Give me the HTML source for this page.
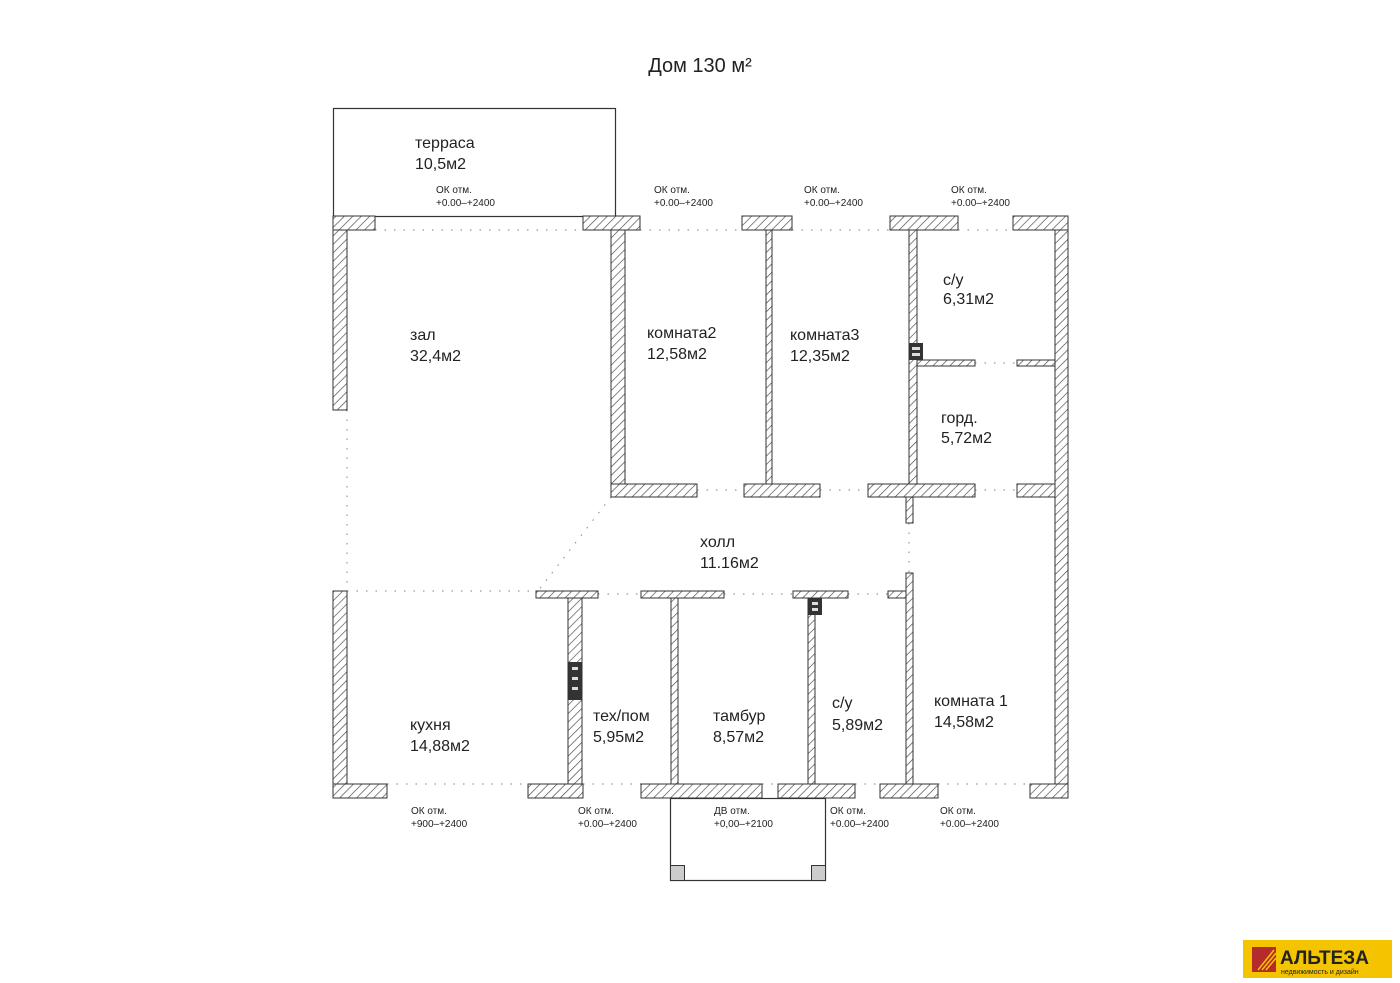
<!DOCTYPE html>
<html><head><meta charset="utf-8"><style>
html,body{margin:0;padding:0;background:#fff;}
svg{display:block}
text{font-family:"Liberation Sans",sans-serif;fill:#222}
.l{font-size:16px}
.s{font-size:10px}
</style></head><body>
<svg width="1400" height="983" viewBox="0 0 1400 983" xmlns="http://www.w3.org/2000/svg">
<defs>
<pattern id="h" width="6" height="6" patternUnits="userSpaceOnUse" patternTransform="rotate(45)">
<rect width="6" height="6" fill="#fff"/><line x1="0" y1="0" x2="0" y2="6" stroke="#444" stroke-width="1.3"/>
</pattern>
</defs>
<text x="700" y="72" text-anchor="middle" style="font-size:20px" fill="#333">Дом 130 м²</text>
<rect x="333.5" y="108.5" width="282" height="108" fill="none" stroke="#333" stroke-width="1.2"/>
<g fill="none" stroke="#999" stroke-width="1.2" stroke-dasharray="1.5 8">
<path d="M375 230H583M640 230H742M792 230H890M958 230H1013"/>
<path d="M347 410V591M347 591H536M611 497L538 591M909 523V573"/>
<path d="M387 784H528M583 784H641M762 784H778M855 784H880M938 784H1030"/>
<path d="M598 594H641M724 594H793M848 594H888"/>
<path d="M697 490H744M820 490H868M975 490H1017M975 363H1017"/>
</g>
<g fill="url(#h)" stroke="#333" stroke-width="1">
<rect x="333" y="216" width="42" height="14"/><rect x="583" y="216" width="57" height="14"/>
<rect x="742" y="216" width="50" height="14"/><rect x="890" y="216" width="68" height="14"/>
<rect x="1013" y="216" width="55" height="14"/>
<rect x="333" y="230" width="14" height="180"/><rect x="333" y="591" width="14" height="193"/>
<rect x="1055" y="230" width="13" height="554"/>
<rect x="333" y="784" width="54" height="14"/><rect x="528" y="784" width="55" height="14"/>
<rect x="641" y="784" width="121" height="14"/><rect x="778" y="784" width="77" height="14"/>
<rect x="880" y="784" width="58" height="14"/><rect x="1030" y="784" width="38" height="14"/>
<rect x="611" y="230" width="14" height="254"/>
<rect x="611" y="484" width="86" height="13"/><rect x="744" y="484" width="76" height="13"/>
<rect x="868" y="484" width="107" height="13"/><rect x="1017" y="484" width="38" height="13"/>
<rect x="766" y="230" width="6" height="254"/><rect x="909" y="230" width="8" height="254"/>
<rect x="917" y="360" width="58" height="6"/><rect x="1017" y="360" width="38" height="6"/>
<rect x="906" y="497" width="7" height="26"/><rect x="906" y="573" width="7" height="211"/>
<rect x="888" y="591" width="18" height="7"/>
<rect x="536" y="591" width="62" height="7"/><rect x="641" y="591" width="83" height="7"/>
<rect x="793" y="591" width="55" height="7"/>
<rect x="568" y="598" width="14" height="186"/><rect x="671" y="598" width="7" height="186"/>
<rect x="808" y="598" width="7" height="186"/>
</g>
<g fill="#333"><rect x="909" y="343" width="14" height="17"/><rect x="568" y="662" width="14" height="38"/><rect x="808" y="598" width="14" height="17"/></g>
<g fill="#ddd"><rect x="912" y="347" width="8" height="3"/><rect x="912" y="353" width="8" height="3"/>
<rect x="572" y="667" width="6" height="3"/><rect x="572" y="677" width="6" height="3"/><rect x="572" y="687" width="6" height="3"/>
<rect x="812" y="602" width="6" height="3"/><rect x="812" y="608" width="6" height="3"/></g>
<rect x="670.5" y="798.5" width="155" height="82" fill="none" stroke="#333" stroke-width="1.2"/>
<g fill="#ccc" stroke="#333"><rect x="670.5" y="865.5" width="14" height="15"/><rect x="811.5" y="865.5" width="14" height="15"/></g>
<text class="l" x="415" y="148">терраса</text><text class="l" x="415" y="169">10,5м2</text>
<text class="l" x="410" y="340">зал</text><text class="l" x="410" y="361">32,4м2</text>
<text class="l" x="647" y="338">комната2</text><text class="l" x="647" y="359">12,58м2</text>
<text class="l" x="790" y="340">комната3</text><text class="l" x="790" y="361">12,35м2</text>
<text class="l" x="943" y="285">с/у</text><text class="l" x="943" y="304">6,31м2</text>
<text class="l" x="941" y="423">горд.</text><text class="l" x="941" y="443">5,72м2</text>
<text class="l" x="700" y="547">холл</text><text class="l" x="700" y="568">11.16м2</text>
<text class="l" x="410" y="730">кухня</text><text class="l" x="410" y="751">14,88м2</text>
<text class="l" x="593" y="721">тех/пом</text><text class="l" x="593" y="742">5,95м2</text>
<text class="l" x="713" y="721">тамбур</text><text class="l" x="713" y="742">8,57м2</text>
<text class="l" x="832" y="708">с/у</text><text class="l" x="832" y="730">5,89м2</text>
<text class="l" x="934" y="706">комната 1</text><text class="l" x="934" y="727">14,58м2</text>
<g class="s">
<text x="436" y="193">ОК отм.</text><text x="436" y="206">+0.00–+2400</text>
<text x="654" y="193">ОК отм.</text><text x="654" y="206">+0.00–+2400</text>
<text x="804" y="193">ОК отм.</text><text x="804" y="206">+0.00–+2400</text>
<text x="951" y="193">ОК отм.</text><text x="951" y="206">+0.00–+2400</text>
<text x="411" y="814">ОК отм.</text><text x="411" y="827">+900–+2400</text>
<text x="578" y="814">ОК отм.</text><text x="578" y="827">+0.00–+2400</text>
<text x="714" y="814">ДВ отм.</text><text x="714" y="827">+0,00–+2100</text>
<text x="830" y="814">ОК отм.</text><text x="830" y="827">+0.00–+2400</text>
<text x="940" y="814">ОК отм.</text><text x="940" y="827">+0.00–+2400</text>
</g>
<rect x="1243" y="940" width="149" height="38" fill="#f5c400"/>
<rect x="1252" y="947" width="24" height="25" fill="#b52a2a"/>
<path d="M1258 970L1274 950M1262 970L1276 953M1266 970L1276 958" stroke="#f5c400" stroke-width="1.5"/>
<text x="1280" y="964" style="font-size:19px;font-weight:bold" fill="#b52a2a">АЛЬТЕЗА</text>
<text x="1281" y="974" style="font-size:7px" fill="#b52a2a">недвижимость и дизайн</text>
</svg>
</body></html>
